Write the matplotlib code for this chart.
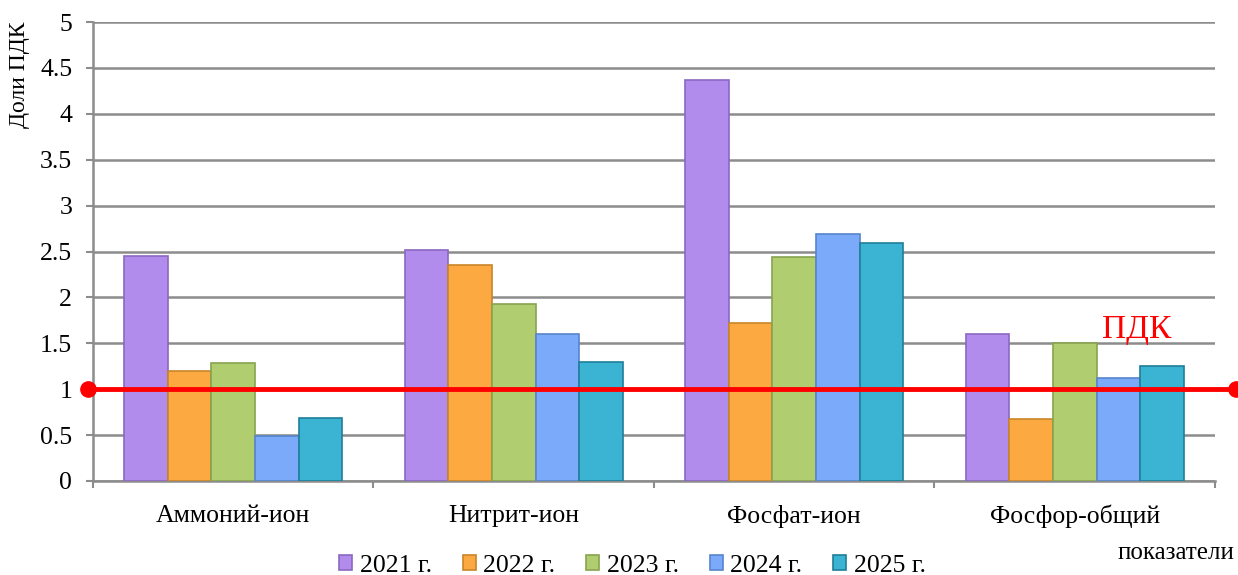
import numpy as np
import matplotlib
matplotlib.use("Agg")
import matplotlib.pyplot as plt
from matplotlib.ticker import FixedLocator

# data
categories = ["Аммоний-ион", "Нитрит-ион", "Фосфат-ион", "Фосфор-общий"]
years = ["2021 г.", "2022 г.", "2023 г.", "2024 г.", "2025 г."]
v2021 = [2.45, 2.52, 4.37, 1.60]
v2022 = [1.20, 2.35, 1.72, 0.68]
v2023 = [1.29, 1.93, 2.44, 1.50]
v2024 = [0.49, 1.60, 2.69, 1.12]
v2025 = [0.69, 1.30, 2.59, 1.25]
pdk_level = 1.0

series = [v2021, v2022, v2023, v2024, v2025]
colors = ["#B28CEC", "#FBA940", "#B0CD70", "#7AAAF9", "#3BB4D4"]
edges = ["#8A68C0", "#C98428", "#88A350", "#5885CC", "#1F7E98"]

plt.rcParams["font.family"] = ["Liberation Serif", "DejaVu Serif"]

fig = plt.figure(figsize=(12.38, 5.75), dpi=100)
ax = fig.add_axes([0.0751, 0.1635, 0.9063, 0.7982])

x = np.arange(len(categories))
bw = 0.1555
for i, (vals, c, ec) in enumerate(zip(series, colors, edges)):
    ax.bar(x + (i - 2) * bw, vals, width=bw, color=c, edgecolor=ec,
           linewidth=1.2, label=years[i], zorder=3)

ax.set_xlim(-0.5, len(categories) - 0.5)
ax.set_ylim(0, 5)
ax.set_yticks(np.arange(0, 5.01, 0.5))
ax.set_yticklabels(["0", "0.5", "1", "1.5", "2", "2.5", "3", "3.5", "4", "4.5", "5"])
ax.yaxis.grid(True, color="#8C8C8C", linewidth=1.8, zorder=0)
ax.set_axisbelow(True)

ax.set_xticks(x)
ax.set_xticklabels(categories)
ax.xaxis.set_minor_locator(FixedLocator(np.arange(-0.5, len(categories), 1)))
ax.tick_params(axis="x", which="major", length=0, pad=17, labelsize=18.5)
ax.tick_params(axis="x", which="minor", length=5, width=1.5, color="#8C8C8C", direction="out")
ax.tick_params(axis="y", length=5, width=1.5, color="#8C8C8C", pad=10, labelsize=18.5)

for s in ["top", "right"]:
    ax.spines[s].set_visible(False)
for s in ["left", "bottom"]:
    ax.spines[s].set_color("#8C8C8C")
    ax.spines[s].set_linewidth(1.8)

# ПДК line, runs a bit past both ends of the plot area
trans = ax.get_yaxis_transform()
ax.plot([-0.0045, 1.0187], [pdk_level, pdk_level], color="#FF0000", linewidth=3.5,
        marker="o", markersize=11, transform=trans, clip_on=False, zorder=5)
ax.text(3.222, 1.645, "ПДК", color="#FF0000", fontsize=24, ha="center", va="center")

fig.text(0.016, 0.87, "Доли ПДК", rotation=90, fontsize=17, ha="center", va="center")
fig.text(0.95, 0.038, "показатели", fontsize=18, ha="center", va="center")

leg = fig.legend(loc="center", bbox_to_anchor=(0.511, 0.016), ncol=5, frameon=False,
                 fontsize=18.5, handlelength=0.5, handleheight=0.5, handletextpad=0.3,
                 columnspacing=1.2, borderpad=0)

fig.savefig("out.png", dpi=100)
